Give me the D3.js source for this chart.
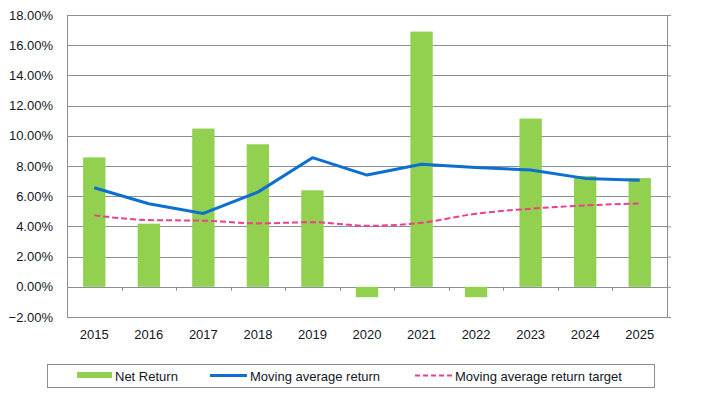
<!DOCTYPE html>
<html>
<head>
<meta charset="utf-8">
<script src="https://cdn.jsdelivr.net/npm/d3@7"></script>
<style>
  body { margin: 0; background: #fff; }
  text { font-family: "Liberation Sans", Arial, sans-serif; fill: #111827; }
</style>
</head>
<body>
<div id="chart"></div>
<script>
// chart data
var years = ["2015", "2016", "2017", "2018", "2019", "2020", "2021", "2022", "2023", "2024", "2025"];
var netReturn = [8.57, 4.18, 10.48, 9.44, 6.39, -0.69, 16.9, -0.69, 11.14, 7.33, 7.2];
var movingAvg = [6.56, 5.5, 4.86, 6.27, 8.55, 7.4, 8.11, 7.9, 7.73, 7.18, 7.05];
var movingTarget = [4.73, 4.42, 4.38, 4.2, 4.28, 4.04, 4.24, 4.84, 5.17, 5.39, 5.52];
var yTicks = [-2, 0, 2, 4, 6, 8, 10, 12, 14, 16, 18];

var svgWidth = 701;
var svgHeight = 393;

var margin = { top: 15, right: 34, bottom: 76, left: 67 };
var chartWidth = svgWidth - margin.left - margin.right;
var chartHeight = svgHeight - margin.top - margin.bottom;

var svg = d3.select("#chart")
  .append("svg")
  .attr("width", svgWidth)
  .attr("height", svgHeight);

var chartGroup = svg.append("g")
  .attr("transform", `translate(${margin.left}, ${margin.top})`);

var xScale = d3.scaleBand()
  .domain(years)
  .range([0, chartWidth]);

var yScale = d3.scaleLinear()
  .domain([-2, 18])
  .range([chartHeight, 0]);

// gridlines
chartGroup.selectAll(".grid")
  .data(yTicks)
  .enter()
  .append("line")
  .attr("x1", 0)
  .attr("x2", chartWidth)
  .attr("y1", d => Math.round(yScale(d)) + 0.5)
  .attr("y2", d => Math.round(yScale(d)) + 0.5)
  .attr("stroke", "#8a8d9a")
  .attr("stroke-width", 1);

// bars
var barW = xScale.bandwidth() * 0.41;
chartGroup.selectAll(".bar")
  .data(netReturn)
  .enter()
  .append("rect")
  .attr("x", (d, i) => xScale(years[i]) + xScale.bandwidth() / 2 - barW / 2)
  .attr("y", d => yScale(Math.max(0, d)))
  .attr("width", barW)
  .attr("height", d => Math.abs(yScale(d) - yScale(0)))
  .attr("fill", "#92d050");

// left axis
var yAxis = d3.axisLeft(yScale)
  .tickValues(yTicks)
  .tickSize(0)
  .tickPadding(14)
  .tickFormat(d => d3.format(".2f")(d) + "%");

var yAxisG = chartGroup.append("g").call(yAxis);
yAxisG.select(".domain").attr("stroke", "#8a8d9a");
yAxisG.selectAll("text").style("font-size", "13px");

// right axis with small outward ticks
var yAxisR = d3.axisRight(yScale)
  .tickValues(yTicks)
  .tickSize(4)
  .tickSizeOuter(0)
  .tickFormat("");
var yAxisRG = chartGroup.append("g")
  .attr("transform", `translate(${chartWidth}, 0)`)
  .call(yAxisR);
yAxisRG.selectAll("path, line").attr("stroke", "#8a8d9a");

// bottom border
chartGroup.append("line")
  .attr("x1", 0)
  .attr("x2", chartWidth + 4)
  .attr("y1", chartHeight + 0.5)
  .attr("y2", chartHeight + 0.5)
  .attr("stroke", "#8a8d9a");

// category ticks on the zero line
chartGroup.selectAll(".xtick")
  .data(years.slice(1))
  .enter()
  .append("line")
  .attr("x1", d => Math.round(xScale(d)) + 0.5)
  .attr("x2", d => Math.round(xScale(d)) + 0.5)
  .attr("y1", yScale(0))
  .attr("y2", yScale(0) + 4)
  .attr("stroke", "#8a8d9a");

// category labels
chartGroup.selectAll(".xlabel")
  .data(years)
  .enter()
  .append("text")
  .attr("x", d => xScale(d) + xScale.bandwidth() / 2)
  .attr("y", chartHeight + 22)
  .attr("text-anchor", "middle")
  .style("font-size", "13px")
  .text(d => d);

// lines
var avgLine = d3.line()
  .x((d, i) => xScale(years[i]) + xScale.bandwidth() / 2)
  .y(d => yScale(d));

var targetLine = d3.line()
  .curve(d3.curveMonotoneX)
  .x((d, i) => xScale(years[i]) + xScale.bandwidth() / 2)
  .y(d => yScale(d));

chartGroup.append("path")
  .datum(movingTarget)
  .attr("d", targetLine)
  .attr("fill", "none")
  .attr("stroke", "#ec3f8c")
  .attr("stroke-width", 2)
  .attr("stroke-dasharray", "6,3");

chartGroup.append("path")
  .datum(movingAvg)
  .attr("d", avgLine)
  .attr("fill", "none")
  .attr("stroke", "#0d6fd0")
  .attr("stroke-width", 3)
  .attr("stroke-linejoin", "round");

// legend
var legend = svg.append("g");
legend.append("rect")
  .attr("x", 47.5)
  .attr("y", 364.5)
  .attr("width", 607)
  .attr("height", 23)
  .attr("fill", "#fff")
  .attr("stroke", "#8a8d9a");

legend.append("rect")
  .attr("x", 77)
  .attr("y", 372)
  .attr("width", 35)
  .attr("height", 6)
  .attr("fill", "#92d050");
legend.append("text")
  .attr("x", 115).attr("y", 381)
  .style("font-size", "13px")
  .text("Net Return");

legend.append("line")
  .attr("x1", 210).attr("x2", 247)
  .attr("y1", 375.5).attr("y2", 375.5)
  .attr("stroke", "#0d6fd0")
  .attr("stroke-width", 3);
legend.append("text")
  .attr("x", 250).attr("y", 381)
  .style("font-size", "13px")
  .text("Moving average return");

legend.append("line")
  .attr("x1", 415).attr("x2", 452)
  .attr("y1", 375.5).attr("y2", 375.5)
  .attr("stroke", "#ec3f8c")
  .attr("stroke-width", 2)
  .attr("stroke-dasharray", "5,3");
legend.append("text")
  .attr("x", 455).attr("y", 381)
  .style("font-size", "13px")
  .text("Moving average return target");
</script>
</body>
</html>
